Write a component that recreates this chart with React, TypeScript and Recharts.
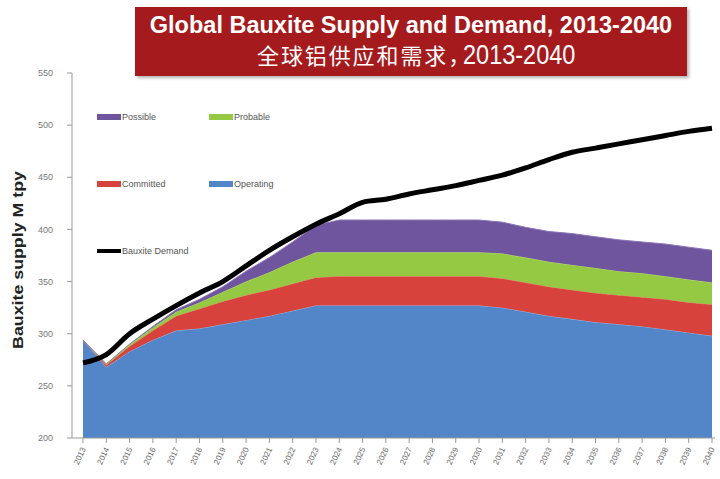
import React from "react";
import {
  ComposedChart,
  Area,
  Line,
  XAxis,
  YAxis,
} from "recharts";

const years = [
  "2013", "2014", "2015", "2016", "2017", "2018", "2019", "2020", "2021", "2022",
  "2023", "2024", "2025", "2026", "2027", "2028", "2029", "2030", "2031", "2032",
  "2033", "2034", "2035", "2036", "2037", "2038", "2039", "2040",
];

const operating = [
  294, 268, 283, 294, 303, 305, 309, 313, 317, 322,
  327, 327, 327, 327, 327, 327, 327, 327, 325, 321,
  317, 314, 311, 309, 307, 304, 301, 298,
];

const committed = [
  0, 2, 5, 9, 14, 19, 22, 24, 25, 26,
  27, 28, 28, 28, 28, 28, 28, 28, 28, 28,
  28, 28, 28, 28, 28, 29, 29, 30,
];

const probable = [
  0, 1, 2, 3, 4, 6, 9, 13, 17, 21,
  24, 23, 23, 23, 23, 23, 23, 23, 24, 24,
  24, 24, 24, 23, 23, 22, 22, 21,
];

const possible = [
  0, 0, 0, 1, 2, 3, 5, 10, 14, 19,
  26, 31, 31, 31, 31, 31, 31, 31, 30, 29,
  29, 30, 30, 30, 30, 31, 31, 31,
];

const demand = [
  272, 280, 300, 314, 327, 339, 350, 365, 380, 393,
  405, 415, 426, 429, 434, 438, 442, 447, 452, 459,
  467, 474, 478, 482, 486, 490, 494, 497,
];

const yTicks = [200, 250, 300, 350, 400, 450, 500, 550];

const COLORS = {
  operating: "#5386c8",
  committed: "#d8423d",
  probable: "#95c843",
  possible: "#6f559d",
  demand: "#000000",
};

const data = years.map((year, i) => ({
  year,
  operating: operating[i],
  committed: committed[i],
  probable: probable[i],
  possible: possible[i],
  demand: demand[i],
}));

const legendItems = [
  { label: "Possible", color: COLORS.possible, x: 97, y: 118, line: false },
  { label: "Probable", color: COLORS.probable, x: 209, y: 118, line: false },
  { label: "Committed", color: COLORS.committed, x: 97, y: 185, line: false },
  { label: "Operating", color: COLORS.operating, x: 209, y: 185, line: false },
  { label: "Bauxite Demand", color: COLORS.demand, x: 97, y: 252, line: true },
];

function XTick(props: any) {
  const { x, y, payload } = props;
  return (
    <text
      x={x + 3}
      y={y + 4}
      transform={`rotate(-65, ${x + 3}, ${y + 4})`}
      textAnchor="end"
      fontSize={8}
      fill="#666"
      fontFamily="'Liberation Sans', Arial, sans-serif"
    >
      {payload.value}
    </text>
  );
}

export default function App() {
  return (
    <div
      style={{
        position: "absolute",
        left: 0,
        top: 0,
        width: 720,
        height: 479,
        background: "#fff",
        fontFamily: "'Liberation Sans', Arial, sans-serif",
      }}
    >
      <ComposedChart
        width={720}
        height={479}
        data={data}
        margin={{ top: 73, right: 5, bottom: 0, left: 0 }}
      >
        <XAxis
          dataKey="year"
          interval={0}
          padding={{ left: 11, right: 3 }}
          tick={<XTick />}
          tickSize={5}
          stroke="#999"
          height={41}
        />
        <YAxis
          domain={[200, 550]}
          ticks={yTicks}
          width={72}
          tickSize={5}
          tickMargin={14}
          stroke="#999"
          tick={{ fontSize: 9, fill: "#777" }}
          allowDataOverflow
        />
        <Area
          dataKey="operating"
          stackId="1"
          type="linear"
          fill={COLORS.operating}
          stroke="#8fb8e8"
          strokeWidth={1}
          fillOpacity={1}
          isAnimationActive={false}
        />
        <Area
          dataKey="committed"
          stackId="1"
          type="linear"
          fill={COLORS.committed}
          stroke="#e8706a"
          strokeWidth={1}
          fillOpacity={1}
          isAnimationActive={false}
        />
        <Area
          dataKey="probable"
          stackId="1"
          type="linear"
          fill={COLORS.probable}
          stroke="#b7e06a"
          strokeWidth={1}
          fillOpacity={1}
          isAnimationActive={false}
        />
        <Area
          dataKey="possible"
          stackId="1"
          type="linear"
          fill={COLORS.possible}
          stroke="#8c74b8"
          strokeWidth={1}
          fillOpacity={1}
          isAnimationActive={false}
        />
        <Line
          dataKey="demand"
          type="monotone"
          stroke={COLORS.demand}
          strokeWidth={5}
          dot={false}
          isAnimationActive={false}
        />
      </ComposedChart>

      {/* title banner */}
      <div
        style={{
          position: "absolute",
          left: 135,
          top: 7,
          width: 552,
          height: 69,
          background: "#a41a1d",
          boxShadow: "2px 2px 3px rgba(0,0,0,0.3)",
        }}
      />
      <div
        style={{
          position: "absolute",
          left: 135,
          top: 15,
          width: 552,
          textAlign: "center",
          color: "#fff",
          fontWeight: "bold",
          fontSize: 23.5,
          lineHeight: "20px",
          whiteSpace: "nowrap",
        }}
      >
        Global Bauxite Supply and Demand, 2013-2040
      </div>
      <div
        style={{
          position: "absolute",
          left: 257,
          top: 43.4,
          color: "#fff",
          whiteSpace: "nowrap",
          fontSize: 22,
          lineHeight: "22px",
          letterSpacing: 1.9,
          fontFamily: "'Noto Sans CJK SC', sans-serif",
        }}
      >
        全球铝供应和需求，
      </div>
      <div
        style={{
          position: "absolute",
          left: 463,
          top: 43.8,
          height: 24,
          color: "#fff",
          whiteSpace: "nowrap",
          fontSize: 23.5,
          lineHeight: "24px",
          transform: "scaleY(1.2)",
          transformOrigin: "50% 20px",
        }}
      >
        2013-2040
      </div>

      {/* y axis title */}
      <div
        style={{
          position: "absolute",
          left: 18,
          top: 260,
          transform: "translate(-50%, -50%) rotate(-90deg) scaleX(1.27)",
          whiteSpace: "nowrap",
          fontWeight: "bold",
          fontSize: 14,
          lineHeight: "14px",
          color: "#222",
        }}
      >
        Bauxite supply M tpy
      </div>

      {/* legend */}
      {legendItems.map((item) => (
        <div
          key={item.label}
          style={{
            position: "absolute",
            left: item.x,
            top: item.y - 6,
            display: "flex",
            alignItems: "center",
            fontSize: 9,
            color: "#555",
            whiteSpace: "nowrap",
          }}
        >
          <span
            style={{
              display: "inline-block",
              width: 24,
              height: item.line ? 4 : 6,
              background: item.color,
              marginRight: 1,
            }}
          />
          {item.label}
        </div>
      ))}
    </div>
  );
}
